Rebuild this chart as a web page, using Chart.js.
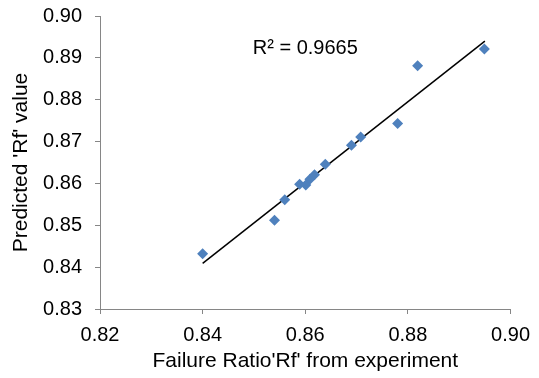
<!DOCTYPE html>
<html>
<head>
<meta charset="utf-8">
<script src="https://cdn.jsdelivr.net/npm/chart.js@4/dist/chart.umd.min.js"></script>
<style>
  html, body { margin: 0; padding: 0; background: #fff; }
  #wrap { width: 539px; height: 378px; }
</style>
</head>
<body>
<div id="wrap"><canvas id="myChart" width="539" height="378"></canvas></div>
<script>
// experiment vs predicted failure ratio
const expRf = [0.840, 0.854, 0.856, 0.8589, 0.8601, 0.8609, 0.8618, 0.8639, 0.869, 0.8708, 0.878, 0.8819, 0.8949];
const predRf = [0.8432, 0.8512, 0.8561, 0.8598, 0.8596, 0.8610, 0.8621, 0.8646, 0.8691, 0.8711, 0.8743, 0.8881, 0.8921];

// linear trend line ends
const trendX = [0.840, 0.895];
const trendY = [0.8409, 0.8940];

const r2Label = 'R\u00b2 = 0.9665';
const r2At = { x: 0.860, y: 0.8923 };

const FONT = "'Liberation Sans', Arial, sans-serif";
const axisGray = '#868686';

const r2Plugin = {
  id: 'r2Text',
  afterDatasetsDraw(chart) {
    const { ctx, scales } = chart;
    ctx.save();
    ctx.font = '20px ' + FONT;
    ctx.fillStyle = '#000';
    ctx.textAlign = 'center';
    ctx.textBaseline = 'middle';
    ctx.fillText(r2Label, scales.x.getPixelForValue(r2At.x), scales.y.getPixelForValue(r2At.y));
    ctx.restore();
  }
};

const data = {
  datasets: [
    {
      type: 'scatter',
      label: 'Rf',
      data: expRf.map((x, i) => ({ x, y: predRf[i] })),
      backgroundColor: '#4F81BD',
      borderColor: '#4F81BD',
      pointStyle: 'rectRot',
      pointRadius: 5.5,
      pointBorderWidth: 0,
    },
    {
      type: 'line',
      label: 'Linear',
      data: trendX.map((x, i) => ({ x, y: trendY[i] })),
      borderColor: '#000',
      borderWidth: 1.5,
      pointRadius: 0,
      fill: false,
    },
  ],
};

const options = {
  responsive: false,
  animation: false,
  layout: { padding: { top: 16, right: 28, left: 0, bottom: 0 } },
  scales: {
    x: {
      type: 'linear',
      min: 0.82,
      max: 0.90,
      afterFit: (s) => { s.height = 69; },
      afterBuildTicks: (s) => {
        s.ticks = [0.82, 0.84, 0.86, 0.88, 0.90].map(v => ({ value: v }));
      },
      ticks: {
        color: '#000',
        font: { family: FONT, size: 20 },
        padding: 9,
        maxRotation: 0,
        callback: (v) => Number(v).toFixed(2),
      },
      grid: { drawOnChartArea: false, color: axisGray, tickLength: 5 },
      border: { color: axisGray, width: 1 },
      title: {
        display: true,
        text: "Failure Ratio'Rf' from experiment",
        color: '#000',
        font: { family: FONT, size: 21 },
        padding: { top: 0, bottom: 4 },
      },
    },
    y: {
      type: 'linear',
      min: 0.83,
      max: 0.90,
      afterFit: (s) => {
        s.width = 100;
        s.paddingTop = 0;
        s.paddingBottom = 0;
      },
      afterBuildTicks: (s) => {
        s.ticks = [0.83, 0.84, 0.85, 0.86, 0.87, 0.88, 0.89, 0.90].map(v => ({ value: v }));
      },
      ticks: {
        color: '#000',
        font: { family: FONT, size: 20 },
        padding: 13,
        callback: (v) => Number(v).toFixed(2),
      },
      grid: { drawOnChartArea: false, color: axisGray, tickLength: 5 },
      border: { color: axisGray, width: 1 },
      title: {
        display: true,
        text: "Predicted 'Rf' value",
        color: '#000',
        font: { family: FONT, size: 21 },
        padding: { top: 9, bottom: 0 },
      },
    },
  },
  plugins: {
    legend: { display: false },
    tooltip: { enabled: false },
  },
};

new Chart(document.getElementById('myChart'), {
  data,
  options,
  plugins: [r2Plugin],
});
</script>
</body>
</html>
